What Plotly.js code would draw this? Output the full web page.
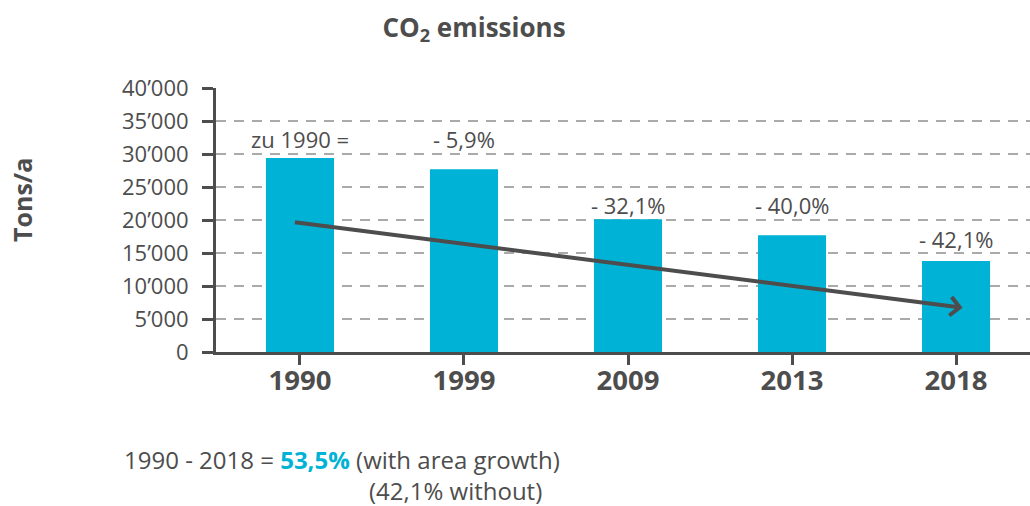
<!DOCTYPE html>
<html>
<head>
<meta charset="utf-8">
<script src="https://cdn.plot.ly/plotly-3.0.1.min.js"></script>
<style>html,body{margin:0;padding:0;background:#fff;}#chart{width:1030px;height:506px;}</style>
</head>
<body>
<div id="chart"></div>
<script>
const years = ['1990', '1999', '2009', '2013', '2018'];
const emissions = [29400, 27700, 20100, 17700, 13800];
const changeLabels = ['zu 1990 =', '- 5,9%', '- 32,1%', '- 40,0%', '- 42,1%'];
const labelY = [32300, 32300, 22300, 22300, 17100];
const yTickVals = [0, 5000, 10000, 15000, 20000, 25000, 30000, 35000, 40000];
const yTickText = ['0', '5’000', '10’000', '15’000', '20’000', '25’000', '30’000', '35’000', '40’000'];
const trendStart = [-0.04, 19700];
const trendEnd = [4.04, 6700];

const dark = '#4d4d4d';
const teal = '#00b2d5';
const font = '"Open Sans", Lato, sans-serif';

const annotations = changeLabels.map((t, i) => ({
  x: i, y: labelY[i], xref: 'x', yref: 'y', text: t, showarrow: false,
  font: {family: font, size: 22, color: dark}
}));
annotations.push({
  x: trendEnd[0], y: trendEnd[1], ax: trendStart[0], ay: trendStart[1],
  xref: 'x', yref: 'y', axref: 'x', ayref: 'y', text: '', showarrow: true,
  arrowhead: 4, arrowsize: 0.9, arrowwidth: 4, arrowcolor: dark
});
annotations.push({
  x: (22 - 216) / 814, y: (352 - 200) / 264, xref: 'paper', yref: 'paper', xanchor: 'center', yanchor: 'middle',
  text: '<b>Tons/a</b>', textangle: -90, showarrow: false,
  font: {family: font, size: 25, color: dark}
});
annotations.push({
  x: (122 - 216) / 814, y: (352 - 459) / 264, xref: 'paper', yref: 'paper', xanchor: 'left', yanchor: 'middle',
  text: '1990 - 2018 = <b><span style="color:' + teal + '">53,5%</span></b> (with area growth)',
  showarrow: false, font: {family: font, size: 24, color: dark}
});
annotations.push({
  x: (367 - 216) / 814, y: (352 - 491) / 264, xref: 'paper', yref: 'paper', xanchor: 'left', yanchor: 'middle',
  text: '(42,1% without)',
  showarrow: false, font: {family: font, size: 24, color: dark}
});

const data = [{
  type: 'bar', x: [0, 1, 2, 3, 4], y: emissions, width: 0.415,
  marker: {color: teal}, hoverinfo: 'skip'
}];

const layout = {
  width: 1030, height: 506,
  margin: {l: 216, r: 0, t: 88, b: 154},
  paper_bgcolor: '#fff', plot_bgcolor: '#fff',
  showlegend: false,
  title: {text: '<b>CO<sub>2</sub> emissions</b>', x: 474 / 1030, xanchor: 'center', y: 0.945, yanchor: 'middle',
          font: {family: font, size: 26, color: dark}},
  xaxis: {
    range: [-0.512, 4.451], tickmode: 'array', tickvals: [0, 1, 2, 3, 4], ticktext: years,
    tickson: 'boundaries', ticks: 'outside', ticklen: 10, tickwidth: 3, tickcolor: dark,
    ticklabelstandoff: -8,
    showline: true, linecolor: dark, linewidth: 3, showgrid: false, zeroline: false,
    tickfont: {family: font, size: 27.5, color: dark, weight: 'bold'}
  },
  yaxis: {
    range: [0, 40000], tickmode: 'array', tickvals: yTickVals, ticktext: yTickText,
    ticks: 'outside', ticklen: 11, tickwidth: 3, tickcolor: dark,
    ticklabelstandoff: 9,
    showline: true, linecolor: dark, linewidth: 3, zeroline: false,
    showgrid: true, gridcolor: '#aaaaaa', gridwidth: 2, griddash: '10px,8px',
    tickfont: {family: font, size: 22, color: dark}
  },
  annotations: annotations
};

Plotly.newPlot('chart', data, layout, {displayModeBar: false, staticPlot: true});
</script>
</body>
</html>
